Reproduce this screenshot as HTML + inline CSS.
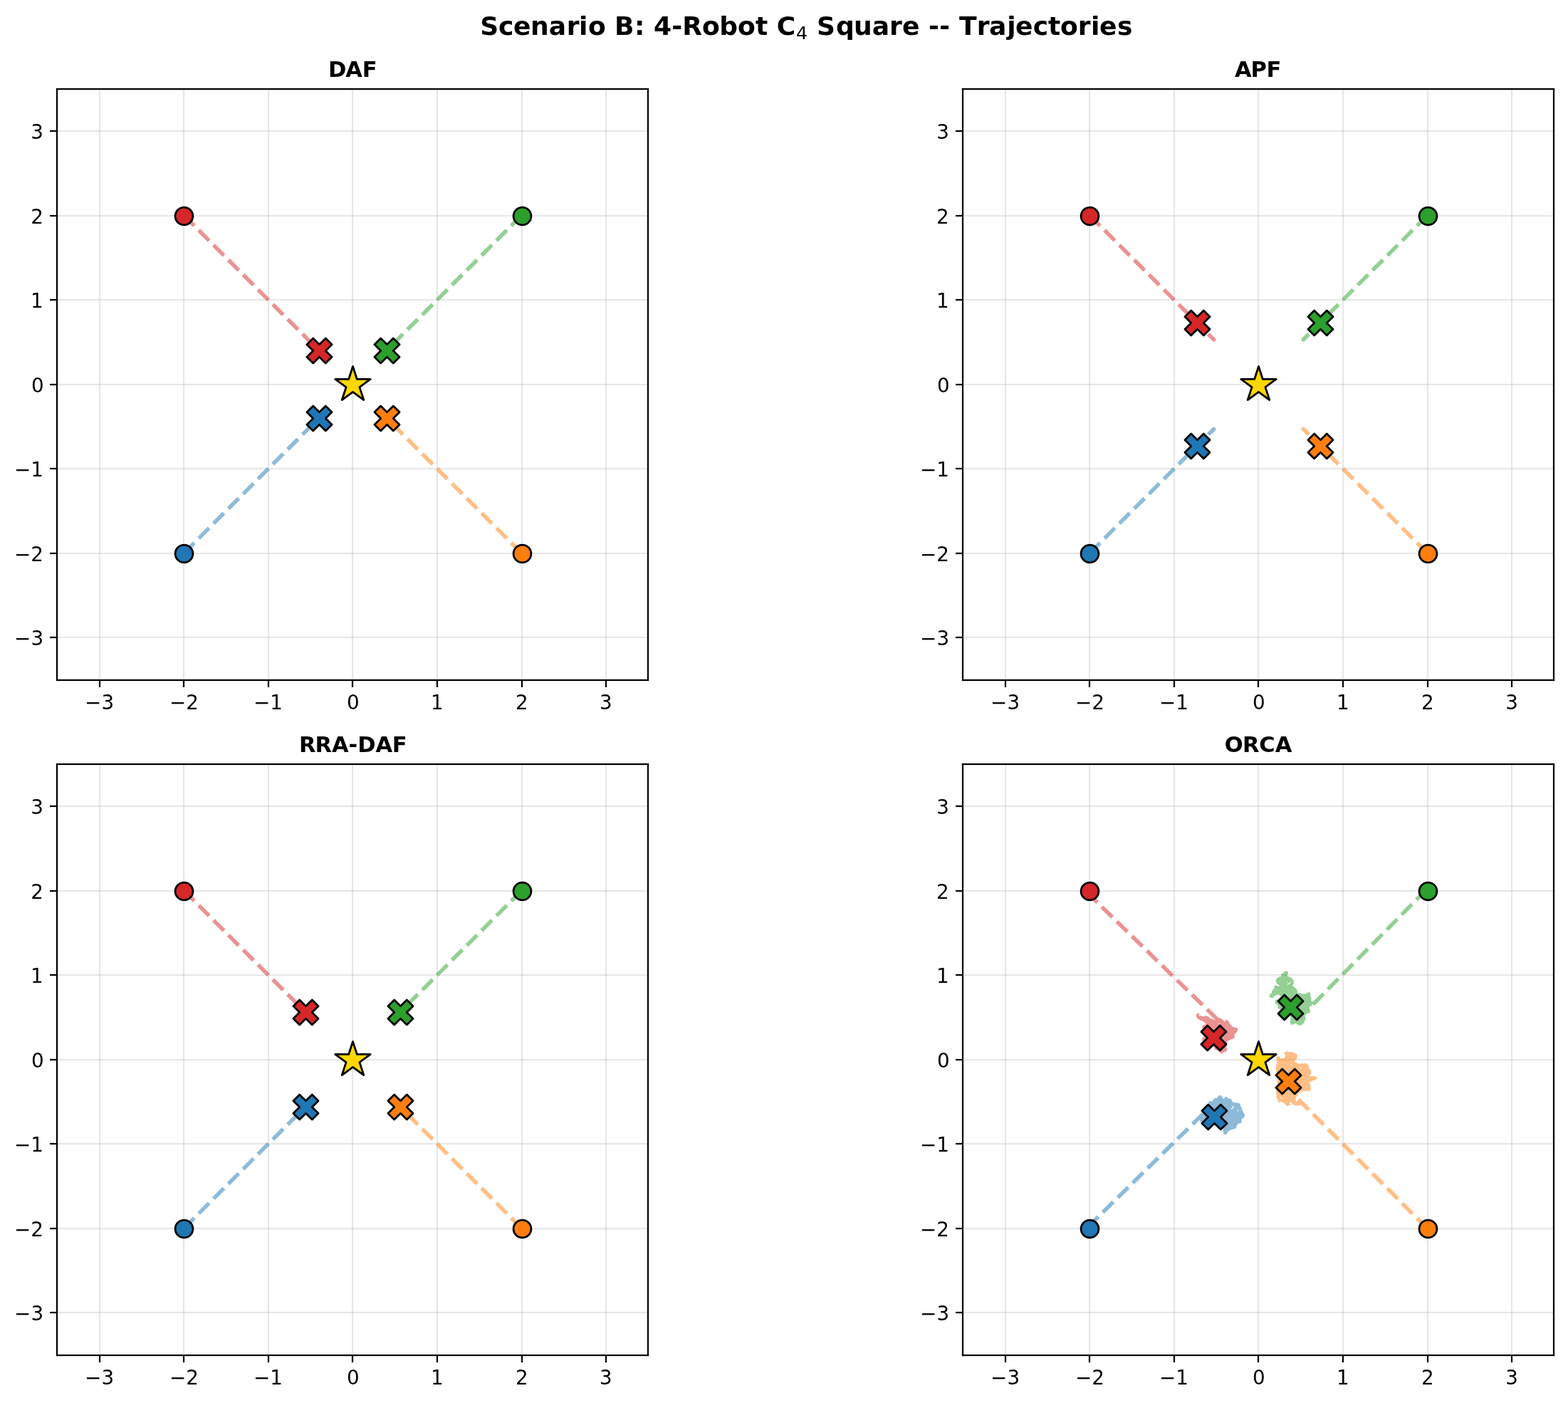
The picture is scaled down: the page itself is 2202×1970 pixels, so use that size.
<!DOCTYPE html>
<html lang="en"><head><meta charset="utf-8"><title>Scenario B: 4-Robot C4 Square -- Trajectories</title><style>html,body{margin:0;padding:0;background:#fff}body{width:2202px;height:1970px}svg{display:block}</style></head><body>
<svg width="2202" height="1970" viewBox="0 0 2202 1970" font-family="'DejaVu Sans','Liberation Sans',sans-serif" fill="#000">
<defs>
<clipPath id="c0"><rect x="80.444" y="124.667" width="829.889" height="829.889"/></clipPath>
<clipPath id="c1"><rect x="1352.485" y="124.667" width="829.889" height="829.889"/></clipPath>
<clipPath id="c2"><rect x="80.444" y="1072.667" width="829.889" height="829.889"/></clipPath>
<clipPath id="c3"><rect x="1352.485" y="1072.667" width="829.889" height="829.889"/></clipPath>
</defs>
<rect width="2202" height="1970" fill="#fff"/>
<text id="sup" xml:space="preserve"><tspan id="sup1" x="674.17 699.89 721.01 744.95 770.85 795.8 813.08 826.03 850.96 863.1 890.98 905.5 917.99 943.17 958.13 985.88 1010.14 1035.88 1061.03 1078.72 1090.74" y="49.03" font-weight="bold" font-size="36.111px">Scenario B: 4-Robot C</tspan><tspan id="sup2" x="1117.94" y="54.95" font-size="25.278px">4</tspan><tspan id="sup3" x="1135.21 1147.04 1174.03 1199.04 1224.84 1248.88 1266.97 1292.01 1304.04 1319.03 1334.56 1346.99 1371.78 1388.9 1414.23 1426 1450.84 1472.03 1488.9 1513.8 1531.93 1544.08 1568.88" y="49.03" font-weight="bold" font-size="36.111px"> Square -- Trajectories</tspan></text>
<g id="ax0">
<g fill="#b0b0b0" fill-opacity="0.3">
<rect x="138.889" y="124.667" width="2.222" height="829.889"/>
<rect x="256.889" y="124.667" width="2.222" height="829.889"/>
<rect x="375.889" y="124.667" width="2.222" height="829.889"/>
<rect x="493.889" y="124.667" width="2.222" height="829.889"/>
<rect x="612.889" y="124.667" width="2.222" height="829.889"/>
<rect x="731.889" y="124.667" width="2.222" height="829.889"/>
<rect x="849.889" y="124.667" width="2.222" height="829.889"/>
<rect x="80.444" y="893.889" width="829.889" height="2.222"/>
<rect x="80.444" y="775.889" width="829.889" height="2.222"/>
<rect x="80.444" y="656.889" width="829.889" height="2.222"/>
<rect x="80.444" y="538.889" width="829.889" height="2.222"/>
<rect x="80.444" y="419.889" width="829.889" height="2.222"/>
<rect x="80.444" y="301.889" width="829.889" height="2.222"/>
<rect x="80.444" y="182.889" width="829.889" height="2.222"/>
</g>
<g clip-path="url(#c0)" fill="none" stroke-width="5.556" stroke-opacity="0.5" stroke-linejoin="round">
<path d="M258.28 776.72L447.97 587.03" stroke="#1f77b4" stroke-dasharray="20.556 8.889"/>
<path d="M732.5 776.72L542.81 587.03" stroke="#ff7f0e" stroke-dasharray="20.556 8.889"/>
<path d="M732.5 302.5L542.81 492.19" stroke="#2ca02c" stroke-dasharray="20.556 8.889"/>
<path d="M258.28 302.5L447.97 492.19" stroke="#d62728" stroke-dasharray="20.556 8.889"/>
</g>
<g stroke="#000" stroke-width="2.778" stroke-linejoin="round">
<circle cx="258.5" cy="777.5" r="12.423" fill="#1f77b4"/>
<path transform="translate(448.5 587.5)" d="M-8.784 17.568L0 8.784L8.784 17.568L17.568 8.784L8.784 0L17.568 -8.784L8.784 -17.568L0 -8.784L-8.784 -17.568L-17.568 -8.784L-8.784 0L-17.568 8.784Z" fill="#1f77b4"/>
<circle cx="733.5" cy="777.5" r="12.423" fill="#ff7f0e"/>
<path transform="translate(543.5 587.5)" d="M-8.784 17.568L0 8.784L8.784 17.568L17.568 8.784L8.784 0L17.568 -8.784L8.784 -17.568L0 -8.784L-8.784 -17.568L-17.568 -8.784L-8.784 0L-17.568 8.784Z" fill="#ff7f0e"/>
<circle cx="733.5" cy="303.5" r="12.423" fill="#2ca02c"/>
<path transform="translate(543.5 492.5)" d="M-8.784 17.568L0 8.784L8.784 17.568L17.568 8.784L8.784 0L17.568 -8.784L8.784 -17.568L0 -8.784L-8.784 -17.568L-17.568 -8.784L-8.784 0L-17.568 8.784Z" fill="#2ca02c"/>
<circle cx="258.5" cy="303.5" r="12.423" fill="#d62728"/>
<path transform="translate(448.5 492.5)" d="M-8.784 17.568L0 8.784L8.784 17.568L17.568 8.784L8.784 0L17.568 -8.784L8.784 -17.568L0 -8.784L-8.784 -17.568L-17.568 -8.784L-8.784 0L-17.568 8.784Z" fill="#d62728"/>
<path transform="translate(495.5 540.5)" d="M0 -25.984L-5.834 -8.029L-24.712 -8.029L-9.439 3.067L-15.273 21.021L0 9.925L15.273 21.021L9.439 3.067L24.712 -8.029L5.834 -8.029Z" fill="#ffd700"/>
</g>
<rect x="138.889" y="955" width="2.222" height="10"/>
<rect x="256.889" y="955" width="2.222" height="10"/>
<rect x="375.889" y="955" width="2.222" height="10"/>
<rect x="493.889" y="955" width="2.222" height="10"/>
<rect x="612.889" y="955" width="2.222" height="10"/>
<rect x="731.889" y="955" width="2.222" height="10"/>
<rect x="849.889" y="955" width="2.222" height="10"/>
<rect x="70" y="893.889" width="10" height="2.222"/>
<rect x="70" y="775.889" width="10" height="2.222"/>
<rect x="70" y="656.889" width="10" height="2.222"/>
<rect x="70" y="538.889" width="10" height="2.222"/>
<rect x="70" y="419.889" width="10" height="2.222"/>
<rect x="70" y="301.889" width="10" height="2.222"/>
<rect x="70" y="182.889" width="10" height="2.222"/>
<rect x="78.889" y="123.889" width="2.222" height="832.222"/>
<rect x="908.889" y="123.889" width="2.222" height="832.222"/>
<rect x="78.889" y="953.889" width="832.222" height="2.222"/>
<rect x="78.889" y="123.889" width="832.222" height="2.222"/>
<g font-size="27.778px">
<text id="a0x1" y="996" x="119.03 142.4">−3</text>
<text id="a0x2" y="996" x="238.01 261.15">−2</text>
<text id="a0x3" y="996" x="356.07 379.24">−1</text>
<text id="a0x4" y="996" x="487.01">0</text>
<text id="a0x5" y="996" x="605.04">1</text>
<text id="a0x6" y="996" x="724">2</text>
<text id="a0x7" y="996" x="842.11">3</text>
<text id="a0y1" y="906.28" x="19.98 43.41">−3</text>
<text id="a0y2" y="787.72" x="19.98 43.37">−2</text>
<text id="a0y3" y="669.17" x="19.98 43.2">−1</text>
<text id="a0y4" y="550.61" x="44">0</text>
<text id="a0y5" y="432.06" x="42.96">1</text>
<text id="a0y6" y="313.5" x="43.13">2</text>
<text id="a0y7" y="194.94" x="43.18">3</text>
</g>
<text id="a0t" y="108" x="460.91 485.17 508.63" font-weight="bold" font-size="30.556px">DAF</text>
</g>
<g id="ax1">
<g fill="#b0b0b0" fill-opacity="0.3">
<rect x="1410.889" y="124.667" width="2.222" height="829.889"/>
<rect x="1528.889" y="124.667" width="2.222" height="829.889"/>
<rect x="1647.889" y="124.667" width="2.222" height="829.889"/>
<rect x="1765.889" y="124.667" width="2.222" height="829.889"/>
<rect x="1884.889" y="124.667" width="2.222" height="829.889"/>
<rect x="2003.889" y="124.667" width="2.222" height="829.889"/>
<rect x="2121.889" y="124.667" width="2.222" height="829.889"/>
<rect x="1352.485" y="893.889" width="829.889" height="2.222"/>
<rect x="1352.485" y="775.889" width="829.889" height="2.222"/>
<rect x="1352.485" y="656.889" width="829.889" height="2.222"/>
<rect x="1352.485" y="538.889" width="829.889" height="2.222"/>
<rect x="1352.485" y="419.889" width="829.889" height="2.222"/>
<rect x="1352.485" y="301.889" width="829.889" height="2.222"/>
<rect x="1352.485" y="182.889" width="829.889" height="2.222"/>
</g>
<g clip-path="url(#c1)" fill="none" stroke-width="5.556" stroke-opacity="0.5" stroke-linejoin="round">
<path d="M1530.32 776.72L1704.59 602.45L1681.24 625.8" stroke="#1f77b4" stroke-dasharray="20.556 8.889"/>
<path d="M2004.54 776.72L1830.26 602.45L1853.62 625.8" stroke="#ff7f0e" stroke-dasharray="20.556 8.889"/>
<path d="M2004.54 302.5L1830.26 476.78L1853.62 453.42" stroke="#2ca02c" stroke-dasharray="20.556 8.889"/>
<path d="M1530.32 302.5L1704.59 476.78L1681.24 453.42" stroke="#d62728" stroke-dasharray="20.556 8.889"/>
</g>
<g stroke="#000" stroke-width="2.778" stroke-linejoin="round">
<circle cx="1530.5" cy="777.5" r="12.423" fill="#1f77b4"/>
<path transform="translate(1681.5 626.5)" d="M-8.784 17.568L0 8.784L8.784 17.568L17.568 8.784L8.784 0L17.568 -8.784L8.784 -17.568L0 -8.784L-8.784 -17.568L-17.568 -8.784L-8.784 0L-17.568 8.784Z" fill="#1f77b4"/>
<circle cx="2005.5" cy="777.5" r="12.423" fill="#ff7f0e"/>
<path transform="translate(1854.5 626.5)" d="M-8.784 17.568L0 8.784L8.784 17.568L17.568 8.784L8.784 0L17.568 -8.784L8.784 -17.568L0 -8.784L-8.784 -17.568L-17.568 -8.784L-8.784 0L-17.568 8.784Z" fill="#ff7f0e"/>
<circle cx="2005.5" cy="303.5" r="12.423" fill="#2ca02c"/>
<path transform="translate(1854.5 453.5)" d="M-8.784 17.568L0 8.784L8.784 17.568L17.568 8.784L8.784 0L17.568 -8.784L8.784 -17.568L0 -8.784L-8.784 -17.568L-17.568 -8.784L-8.784 0L-17.568 8.784Z" fill="#2ca02c"/>
<circle cx="1530.5" cy="303.5" r="12.423" fill="#d62728"/>
<path transform="translate(1681.5 453.5)" d="M-8.784 17.568L0 8.784L8.784 17.568L17.568 8.784L8.784 0L17.568 -8.784L8.784 -17.568L0 -8.784L-8.784 -17.568L-17.568 -8.784L-8.784 0L-17.568 8.784Z" fill="#d62728"/>
<path transform="translate(1767.5 540.5)" d="M0 -25.984L-5.834 -8.029L-24.712 -8.029L-9.439 3.067L-15.273 21.021L0 9.925L15.273 21.021L9.439 3.067L24.712 -8.029L5.834 -8.029Z" fill="#ffd700"/>
</g>
<rect x="1410.889" y="955" width="2.222" height="10"/>
<rect x="1528.889" y="955" width="2.222" height="10"/>
<rect x="1647.889" y="955" width="2.222" height="10"/>
<rect x="1765.889" y="955" width="2.222" height="10"/>
<rect x="1884.889" y="955" width="2.222" height="10"/>
<rect x="2003.889" y="955" width="2.222" height="10"/>
<rect x="2121.889" y="955" width="2.222" height="10"/>
<rect x="1342" y="893.889" width="10" height="2.222"/>
<rect x="1342" y="775.889" width="10" height="2.222"/>
<rect x="1342" y="656.889" width="10" height="2.222"/>
<rect x="1342" y="538.889" width="10" height="2.222"/>
<rect x="1342" y="419.889" width="10" height="2.222"/>
<rect x="1342" y="301.889" width="10" height="2.222"/>
<rect x="1342" y="182.889" width="10" height="2.222"/>
<rect x="1350.889" y="123.889" width="2.222" height="832.222"/>
<rect x="2180.889" y="123.889" width="2.222" height="832.222"/>
<rect x="1350.889" y="953.889" width="832.222" height="2.222"/>
<rect x="1350.889" y="123.889" width="832.222" height="2.222"/>
<g font-size="27.778px">
<text id="a1x1" y="996" x="1391.01 1414.44">−3</text>
<text id="a1x2" y="996" x="1510.05 1533.19">−2</text>
<text id="a1x3" y="996" x="1628.11 1651.21">−1</text>
<text id="a1x4" y="996" x="1759.01">0</text>
<text id="a1x5" y="996" x="1877">1</text>
<text id="a1x6" y="996" x="1996.04">2</text>
<text id="a1x7" y="996" x="2114.15">3</text>
<text id="a1y1" y="906.28" x="1292.02 1315.45">−3</text>
<text id="a1y2" y="787.72" x="1292.02 1315.15">−2</text>
<text id="a1y3" y="669.17" x="1292.02 1315.24">−1</text>
<text id="a1y4" y="550.61" x="1316">0</text>
<text id="a1y5" y="432.06" x="1315.01">1</text>
<text id="a1y6" y="313.5" x="1314.91">2</text>
<text id="a1y7" y="194.94" x="1315.23">3</text>
</g>
<text id="a1t" y="108" x="1733.98 1756.48 1778.6" font-weight="bold" font-size="30.556px">APF</text>
</g>
<g id="ax2">
<g fill="#b0b0b0" fill-opacity="0.3">
<rect x="138.889" y="1072.667" width="2.222" height="829.889"/>
<rect x="256.889" y="1072.667" width="2.222" height="829.889"/>
<rect x="375.889" y="1072.667" width="2.222" height="829.889"/>
<rect x="493.889" y="1072.667" width="2.222" height="829.889"/>
<rect x="612.889" y="1072.667" width="2.222" height="829.889"/>
<rect x="731.889" y="1072.667" width="2.222" height="829.889"/>
<rect x="849.889" y="1072.667" width="2.222" height="829.889"/>
<rect x="80.444" y="1841.889" width="829.889" height="2.222"/>
<rect x="80.444" y="1723.889" width="829.889" height="2.222"/>
<rect x="80.444" y="1604.889" width="829.889" height="2.222"/>
<rect x="80.444" y="1486.889" width="829.889" height="2.222"/>
<rect x="80.444" y="1367.889" width="829.889" height="2.222"/>
<rect x="80.444" y="1249.889" width="829.889" height="2.222"/>
<rect x="80.444" y="1130.889" width="829.889" height="2.222"/>
</g>
<g clip-path="url(#c2)" fill="none" stroke-width="5.556" stroke-opacity="0.5" stroke-linejoin="round">
<path d="M258.28 1724.72L429 1554" stroke="#1f77b4" stroke-dasharray="20.556 8.889"/>
<path d="M732.5 1724.72L561.78 1554" stroke="#ff7f0e" stroke-dasharray="20.556 8.889"/>
<path d="M732.5 1250.5L561.78 1421.22" stroke="#2ca02c" stroke-dasharray="20.556 8.889"/>
<path d="M258.28 1250.5L429 1421.22" stroke="#d62728" stroke-dasharray="20.556 8.889"/>
</g>
<g stroke="#000" stroke-width="2.778" stroke-linejoin="round">
<circle cx="258.5" cy="1725.5" r="12.423" fill="#1f77b4"/>
<path transform="translate(429.5 1554.5)" d="M-8.784 17.568L0 8.784L8.784 17.568L17.568 8.784L8.784 0L17.568 -8.784L8.784 -17.568L0 -8.784L-8.784 -17.568L-17.568 -8.784L-8.784 0L-17.568 8.784Z" fill="#1f77b4"/>
<circle cx="733.5" cy="1725.5" r="12.423" fill="#ff7f0e"/>
<path transform="translate(562.5 1554.5)" d="M-8.784 17.568L0 8.784L8.784 17.568L17.568 8.784L8.784 0L17.568 -8.784L8.784 -17.568L0 -8.784L-8.784 -17.568L-17.568 -8.784L-8.784 0L-17.568 8.784Z" fill="#ff7f0e"/>
<circle cx="733.5" cy="1251.5" r="12.423" fill="#2ca02c"/>
<path transform="translate(562.5 1421.5)" d="M-8.784 17.568L0 8.784L8.784 17.568L17.568 8.784L8.784 0L17.568 -8.784L8.784 -17.568L0 -8.784L-8.784 -17.568L-17.568 -8.784L-8.784 0L-17.568 8.784Z" fill="#2ca02c"/>
<circle cx="258.5" cy="1251.5" r="12.423" fill="#d62728"/>
<path transform="translate(429.5 1421.5)" d="M-8.784 17.568L0 8.784L8.784 17.568L17.568 8.784L8.784 0L17.568 -8.784L8.784 -17.568L0 -8.784L-8.784 -17.568L-17.568 -8.784L-8.784 0L-17.568 8.784Z" fill="#d62728"/>
<path transform="translate(495.5 1488.5)" d="M0 -25.984L-5.834 -8.029L-24.712 -8.029L-9.439 3.067L-15.273 21.021L0 9.925L15.273 21.021L9.439 3.067L24.712 -8.029L5.834 -8.029Z" fill="#ffd700"/>
</g>
<rect x="138.889" y="1903" width="2.222" height="10"/>
<rect x="256.889" y="1903" width="2.222" height="10"/>
<rect x="375.889" y="1903" width="2.222" height="10"/>
<rect x="493.889" y="1903" width="2.222" height="10"/>
<rect x="612.889" y="1903" width="2.222" height="10"/>
<rect x="731.889" y="1903" width="2.222" height="10"/>
<rect x="849.889" y="1903" width="2.222" height="10"/>
<rect x="70" y="1841.889" width="10" height="2.222"/>
<rect x="70" y="1723.889" width="10" height="2.222"/>
<rect x="70" y="1604.889" width="10" height="2.222"/>
<rect x="70" y="1486.889" width="10" height="2.222"/>
<rect x="70" y="1367.889" width="10" height="2.222"/>
<rect x="70" y="1249.889" width="10" height="2.222"/>
<rect x="70" y="1130.889" width="10" height="2.222"/>
<rect x="78.889" y="1071.889" width="2.222" height="832.222"/>
<rect x="908.889" y="1071.889" width="2.222" height="832.222"/>
<rect x="78.889" y="1901.889" width="832.222" height="2.222"/>
<rect x="78.889" y="1071.889" width="832.222" height="2.222"/>
<g font-size="27.778px">
<text id="a2x1" y="1944" x="119.03 142.4">−3</text>
<text id="a2x2" y="1944" x="238.01 261.15">−2</text>
<text id="a2x3" y="1944" x="356.07 379.24">−1</text>
<text id="a2x4" y="1944" x="487.01">0</text>
<text id="a2x5" y="1944" x="605.04">1</text>
<text id="a2x6" y="1944" x="724">2</text>
<text id="a2x7" y="1944" x="842.11">3</text>
<text id="a2y1" y="1854.28" x="19.98 43.41">−3</text>
<text id="a2y2" y="1735.72" x="19.98 43.37">−2</text>
<text id="a2y3" y="1617.17" x="19.98 43.2">−1</text>
<text id="a2y4" y="1498.61" x="44">0</text>
<text id="a2y5" y="1380.06" x="42.96">1</text>
<text id="a2y6" y="1261.5" x="43.13">2</text>
<text id="a2y7" y="1142.94" x="43.18">3</text>
</g>
<text id="a2t" y="1056" x="420.08 442.42 465.97 489.49 502.14 527.5 550.8" font-weight="bold" font-size="30.556px">RRA-DAF</text>
</g>
<g id="ax3">
<g fill="#b0b0b0" fill-opacity="0.3">
<rect x="1410.889" y="1072.667" width="2.222" height="829.889"/>
<rect x="1528.889" y="1072.667" width="2.222" height="829.889"/>
<rect x="1647.889" y="1072.667" width="2.222" height="829.889"/>
<rect x="1765.889" y="1072.667" width="2.222" height="829.889"/>
<rect x="1884.889" y="1072.667" width="2.222" height="829.889"/>
<rect x="2003.889" y="1072.667" width="2.222" height="829.889"/>
<rect x="2121.889" y="1072.667" width="2.222" height="829.889"/>
<rect x="1352.485" y="1841.889" width="829.889" height="2.222"/>
<rect x="1352.485" y="1723.889" width="829.889" height="2.222"/>
<rect x="1352.485" y="1604.889" width="829.889" height="2.222"/>
<rect x="1352.485" y="1486.889" width="829.889" height="2.222"/>
<rect x="1352.485" y="1367.889" width="829.889" height="2.222"/>
<rect x="1352.485" y="1249.889" width="829.889" height="2.222"/>
<rect x="1352.485" y="1130.889" width="829.889" height="2.222"/>
</g>
<g clip-path="url(#c3)" fill="none" stroke-width="5.556" stroke-opacity="0.5" stroke-linejoin="round">
<g opacity="0.5" stroke-opacity="1"><path d="M1530.32 1724.72L1530.32 1720.22L1703.07 1550.75" stroke="#1f77b4" stroke-dasharray="20.556 8.889" stroke-dashoffset="-0.8"/><path d="M1697.4 1551.8L1697.4 1546.3L1699.6 1546.0L1702.6 1546.3L1704.0 1543.5L1706.2 1542.1L1709.2 1542.1L1710.3 1539.7L1711.9 1538.3L1714.4 1538.1L1716.3 1539.7L1717.1 1542.7L1719.1 1542.4L1719.9 1540.5L1722.1 1540.1L1724.0 1541.6L1725.4 1543.5L1727.0 1542.1L1729.8 1544.6L1730.9 1547.4L1733.1 1547.9L1736.9 1548.5L1740.8 1549.3L1741.9 1550.7L1742.1 1553.4L1743.8 1555.6L1744.9 1559.5L1746.3 1562.2L1748.2 1565.5L1747.9 1567.7L1745.7 1570.2L1743.5 1572.1L1743.8 1576.5L1741.9 1577.0L1738.6 1577.9L1736.6 1580.9L1735.8 1584.2L1733.6 1585.3L1730.3 1586.1L1725.9 1587.5L1724.0 1589.1L1723.2 1591.9L1721.5 1593.0L1719.3 1592.7L1718.0 1590.8L1717.4 1587.5L1718.2 1585.3L1714.9 1578.7L1698.5 1578.7L1686.9 1579.5L1686.4 1578.1L1687.5 1575.9L1685.3 1575.4L1685.0 1572.6L1687.5 1567.1L1693.0 1559.5ZM1729.8 1552.2L1733.0 1553.8L1731.2 1556.7L1728.7 1557.7L1728.1 1557.1L1730.3 1555.9L1731.4 1554.0L1729.7 1553.0ZM1738.0 1557.8L1739.0 1557.9L1739.1 1560.8L1738.2 1560.7Z" fill="#1f77b4" fill-rule="evenodd" stroke="none"/></g>
<g opacity="0.5" stroke-opacity="1"><path d="M2004.54 1724.72L2004.14 1724.72L1809.85 1530.10" stroke="#ff7f0e" stroke-dasharray="20.556 8.889" stroke-dashoffset="0"/><path d="M1792.5 1484.7L1793.6 1483.4L1795.8 1483.1L1797.7 1484.2L1798.3 1486.4L1800.8 1485.8L1803.0 1486.1L1804.6 1484.2L1805.2 1482.0L1803.8 1480.3L1804.3 1477.6L1806.5 1476.2L1808.7 1476.5L1810.1 1477.3L1813.4 1477.1L1817.8 1478.7L1821.9 1480.6L1821.6 1484.2L1821.1 1487.5L1818.6 1488.6L1818.1 1490.5L1819.7 1492.1L1822.7 1493.2L1827.1 1493.6L1833.2 1493.1L1835.9 1494.6L1838.4 1496.8L1837.9 1498.7L1839.8 1501.8L1841.2 1504.5L1841.4 1507.3L1840.1 1509.7L1838.1 1510.8L1839.2 1511.4L1843.6 1511.1L1848.0 1511.4L1849.7 1513.0L1848.8 1515.2L1846.4 1516.6L1843.1 1517.7L1839.2 1519.6L1839.2 1521.5L1840.9 1523.7L1840.1 1525.9L1840.6 1529.2L1841.2 1531.4L1835.9 1532.0L1830.4 1532.1L1827.1 1532.5L1824.9 1534.2L1823.0 1535.8L1822.2 1538.0L1820.8 1539.7L1819.2 1541.9L1819.7 1543.5L1819.5 1545.7L1821.6 1546.8L1822.7 1545.7L1827.7 1551.5L1824.9 1552.3L1819.5 1552.6L1817.3 1551.8L1814.0 1549.0L1811.8 1547.4L1810.9 1547.9L1811.8 1551.2L1810.7 1552.3L1807.4 1553.1L1805.7 1552.3L1805.2 1550.1L1801.9 1548.5L1799.7 1547.1L1796.9 1547.6L1794.5 1547.4L1794.2 1545.7L1795.8 1544.9L1794.2 1543.5L1792.5 1541.3L1792.3 1536.9L1792.0 1531.4L1793.6 1525.9L1793.9 1519.3L1794.2 1516.6L1793.1 1512.2L1792.0 1501.8L1792.0 1495.7L1793.4 1493.0L1792.8 1488.6ZM1812.2 1494.5L1814.1 1494.7L1814.0 1496.0L1812.3 1495.8ZM1825.1 1499.1L1828.0 1499.1L1827.9 1500.0L1825.2 1500.1ZM1833.0 1525.1L1834.1 1525.3L1834.0 1526.8L1833.1 1526.6ZM1797.9 1539.1L1798.8 1539.4L1800.9 1543.2L1799.9 1543.5ZM1812.2 1533.1L1812.9 1533.0L1813.8 1534.6L1813.1 1534.8Z" fill="#ff7f0e" fill-rule="evenodd" stroke="none"/></g>
<g opacity="0.5" stroke-opacity="1"><path d="M2004.54 1250.50L2001.94 1250.50L1834.58 1419.72" stroke="#2ca02c" stroke-dasharray="20.556 8.889" stroke-dashoffset="-0.2"/><path d="M1804.3 1363.2L1809.3 1364.4L1808.5 1368.1L1807.9 1370.6L1811.8 1372.0L1814.8 1374.2L1816.7 1376.9L1817.0 1380.8L1815.3 1384.3L1817.8 1386.0L1820.5 1388.5L1821.9 1390.9L1822.2 1394.0L1823.6 1394.8L1826.6 1393.7L1827.7 1395.6L1834.6 1395.2L1835.4 1394.0L1839.5 1392.9L1840.6 1396.7L1840.3 1399.5L1841.4 1401.6L1841.2 1405.5L1843.4 1406.9L1846.4 1408.2L1846.4 1411.0L1843.4 1410.4L1841.4 1412.4L1838.7 1413.7L1839.0 1416.8L1840.1 1418.4L1839.8 1421.4L1838.1 1422.8L1835.4 1423.1L1832.6 1425.8L1832.9 1428.0L1833.7 1429.4L1833.2 1432.4L1831.0 1434.1L1832.4 1435.7L1829.6 1437.6L1827.7 1439.6L1824.9 1439.8L1821.4 1438.5L1819.7 1436.5L1817.8 1437.9L1814.5 1439.0L1812.3 1437.9L1812.0 1434.6L1812.6 1429.1L1808.5 1421.4L1798.6 1417.6L1794.8 1415.9L1794.2 1413.2L1794.5 1411.0L1791.5 1409.8L1790.4 1407.1L1790.9 1404.1L1794.2 1403.6L1800.8 1402.7L1800.8 1399.5L1797.5 1398.4L1796.4 1396.4L1791.7 1397.4L1788.4 1399.5L1787.6 1401.8L1783.5 1400.5L1782.1 1398.4L1783.5 1395.9L1785.9 1394.0L1786.5 1391.2L1787.9 1389.0L1789.5 1388.5L1789.2 1385.7L1791.2 1383.0L1793.6 1384.3L1795.8 1384.9L1796.9 1383.5L1794.2 1381.9L1792.5 1380.2L1791.7 1377.5L1792.5 1374.2L1795.3 1372.0L1798.8 1370.9L1799.1 1368.4L1801.6 1366.2L1803.5 1365.4ZM1807.1 1378.1L1808.7 1378.5L1808.5 1379.1L1807.3 1378.8ZM1807.9 1381.6L1810.9 1380.1L1812.3 1378.3L1812.9 1378.7L1811.2 1380.9L1808.2 1382.9Z" fill="#2ca02c" fill-rule="evenodd" stroke="none"/></g>
<g opacity="0.5" stroke-opacity="1"><path d="M1530.32 1250.50L1530.32 1256.80L1718.06 1439.55" stroke="#d62728" stroke-dasharray="20.556 8.889" stroke-dashoffset="-0.7"/><path d="M1680.1 1424.5L1681.2 1422.8L1683.1 1422.4L1684.7 1423.5L1682.8 1426.3L1684.7 1425.8L1688.6 1427.0L1691.6 1427.6L1692.5 1425.8L1695.7 1427.0L1698.5 1428.3L1699.5 1430.7L1702.0 1429.9L1704.2 1431.8L1705.6 1432.5L1709.5 1430.8L1712.7 1429.1L1714.9 1429.9L1718.2 1433.0L1720.2 1434.7L1721.0 1432.5L1723.2 1432.1L1725.4 1434.1L1727.3 1437.4L1729.0 1439.8L1731.2 1441.9L1735.8 1442.9L1738.0 1444.0L1738.5 1445.6L1737.2 1448.6L1734.7 1451.4L1733.1 1453.4L1734.0 1455.5L1733.5 1457.6L1730.6 1459.1L1726.2 1460.4L1724.0 1462.0L1723.2 1464.8L1722.6 1468.1L1722.4 1470.9L1723.3 1473.1L1722.6 1475.9L1720.0 1476.9L1717.4 1478.0L1714.7 1480.1L1712.9 1477.0L1711.1 1475.4L1708.4 1474.5L1705.6 1473.7L1705.6 1470.9L1698.5 1465.9L1689.7 1462.1L1688.0 1461.1L1688.3 1458.2L1689.9 1455.5L1693.0 1454.9L1693.0 1445.1L1688.6 1444.0L1688.1 1443.4L1688.6 1440.7L1689.9 1439.0L1693.0 1438.5L1694.1 1439.1L1692.4 1436.3L1689.7 1434.2L1684.7 1432.0L1681.2 1430.1L1680.1 1427.5ZM1712.3 1436.3L1713.7 1438.0L1711.5 1437.9Z" fill="#d62728" fill-rule="evenodd" stroke="none"/></g>
</g>
<g stroke="#000" stroke-width="2.778" stroke-linejoin="round">
<circle cx="1530.5" cy="1725.5" r="12.423" fill="#1f77b4"/>
<path transform="translate(1705.5 1568.5)" d="M-8.784 17.568L0 8.784L8.784 17.568L17.568 8.784L8.784 0L17.568 -8.784L8.784 -17.568L0 -8.784L-8.784 -17.568L-17.568 -8.784L-8.784 0L-17.568 8.784Z" fill="#1f77b4"/>
<circle cx="2005.5" cy="1725.5" r="12.423" fill="#ff7f0e"/>
<path transform="translate(1809.5 1518.5)" d="M-8.784 17.568L0 8.784L8.784 17.568L17.568 8.784L8.784 0L17.568 -8.784L8.784 -17.568L0 -8.784L-8.784 -17.568L-17.568 -8.784L-8.784 0L-17.568 8.784Z" fill="#ff7f0e"/>
<circle cx="2005.5" cy="1251.5" r="12.423" fill="#2ca02c"/>
<path transform="translate(1812.5 1414.5)" d="M-8.784 17.568L0 8.784L8.784 17.568L17.568 8.784L8.784 0L17.568 -8.784L8.784 -17.568L0 -8.784L-8.784 -17.568L-17.568 -8.784L-8.784 0L-17.568 8.784Z" fill="#2ca02c"/>
<circle cx="1530.5" cy="1251.5" r="12.423" fill="#d62728"/>
<path transform="translate(1704.5 1457.5)" d="M-8.784 17.568L0 8.784L8.784 17.568L17.568 8.784L8.784 0L17.568 -8.784L8.784 -17.568L0 -8.784L-8.784 -17.568L-17.568 -8.784L-8.784 0L-17.568 8.784Z" fill="#d62728"/>
<path transform="translate(1767.5 1488.5)" d="M0 -25.984L-5.834 -8.029L-24.712 -8.029L-9.439 3.067L-15.273 21.021L0 9.925L15.273 21.021L9.439 3.067L24.712 -8.029L5.834 -8.029Z" fill="#ffd700"/>
</g>
<rect x="1410.889" y="1903" width="2.222" height="10"/>
<rect x="1528.889" y="1903" width="2.222" height="10"/>
<rect x="1647.889" y="1903" width="2.222" height="10"/>
<rect x="1765.889" y="1903" width="2.222" height="10"/>
<rect x="1884.889" y="1903" width="2.222" height="10"/>
<rect x="2003.889" y="1903" width="2.222" height="10"/>
<rect x="2121.889" y="1903" width="2.222" height="10"/>
<rect x="1342" y="1841.889" width="10" height="2.222"/>
<rect x="1342" y="1723.889" width="10" height="2.222"/>
<rect x="1342" y="1604.889" width="10" height="2.222"/>
<rect x="1342" y="1486.889" width="10" height="2.222"/>
<rect x="1342" y="1367.889" width="10" height="2.222"/>
<rect x="1342" y="1249.889" width="10" height="2.222"/>
<rect x="1342" y="1130.889" width="10" height="2.222"/>
<rect x="1350.889" y="1071.889" width="2.222" height="832.222"/>
<rect x="2180.889" y="1071.889" width="2.222" height="832.222"/>
<rect x="1350.889" y="1901.889" width="832.222" height="2.222"/>
<rect x="1350.889" y="1071.889" width="832.222" height="2.222"/>
<g font-size="27.778px">
<text id="a3x1" y="1944" x="1391.01 1414.44">−3</text>
<text id="a3x2" y="1944" x="1510.05 1533.19">−2</text>
<text id="a3x3" y="1944" x="1628.11 1651.21">−1</text>
<text id="a3x4" y="1944" x="1759.01">0</text>
<text id="a3x5" y="1944" x="1877">1</text>
<text id="a3x6" y="1944" x="1996.04">2</text>
<text id="a3x7" y="1944" x="2114.15">3</text>
<text id="a3y1" y="1854.28" x="1292.02 1315.45">−3</text>
<text id="a3y2" y="1735.72" x="1292.02 1315.15">−2</text>
<text id="a3y3" y="1617.17" x="1292.02 1315.24">−1</text>
<text id="a3y4" y="1498.61" x="1316">0</text>
<text id="a3y5" y="1380.06" x="1315.01">1</text>
<text id="a3y6" y="1261.5" x="1314.91">2</text>
<text id="a3y7" y="1142.94" x="1315.23">3</text>
</g>
<text id="a3t" y="1056" x="1719.86 1744.95 1768.33 1790.81" font-weight="bold" font-size="30.556px">ORCA</text>
</g>
</svg>
</body></html>
